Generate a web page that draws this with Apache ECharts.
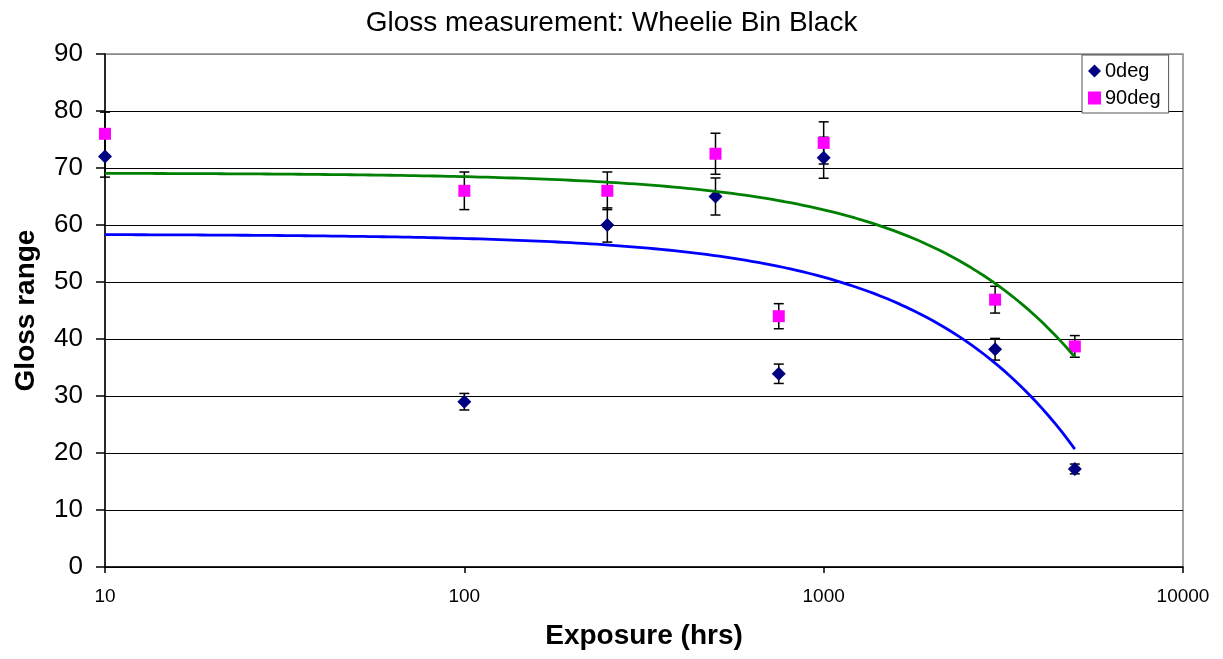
<!DOCTYPE html>
<html>
<head>
<meta charset="utf-8">
<script src="https://cdn.jsdelivr.net/npm/echarts@6/dist/echarts.min.js"></script>
<style>
html,body{margin:0;padding:0;background:#fff;}
#chart{width:1223px;height:659px;}
</style>
</head>
<body>
<div id="chart"></div>
<script>
// ---- data ----
const exposure = [10, 100, 250, 500, 750, 1000, 3000, 5000];
const gloss0 = [72, 29, 60, 65, 33.9, 71.8, 38.2, 17.2];
const gloss90 = [76, 66, 66, 72.5, 44, 74.4, 46.9, 38.7];
const err0 = [3.6, 1.45, 3.0, 3.25, 1.7, 3.6, 1.9, 0.86];
const err90 = [3.8, 3.3, 3.3, 3.6, 2.2, 3.7, 2.35, 1.9];
const seriesNames = ['0deg', '90deg'];
const xTickValues = [10, 100, 1000, 10000];
const yTickValues = [0, 10, 20, 30, 40, 50, 60, 70, 80, 90];

// ---- linear least-squares trendline (as in the spreadsheet) ----
function linFit(xs, ys) {
  const n = xs.length;
  const mx = xs.reduce((a, b) => a + b, 0) / n;
  const my = ys.reduce((a, b) => a + b, 0) / n;
  let sxy = 0, sxx = 0;
  for (let i = 0; i < n; i++) { sxy += (xs[i] - mx) * (ys[i] - my); sxx += (xs[i] - mx) * (xs[i] - mx); }
  const b = sxy / sxx;
  return { a: my - b * mx, b: b };
}
function trendPoints(xs, ys) {
  const f = linFit(xs, ys);
  const x0 = Math.min.apply(null, xs), x1 = Math.max.apply(null, xs);
  const pts = [];
  const steps = 150;
  for (let i = 0; i <= steps; i++) {
    const x = x0 * Math.pow(x1 / x0, i / steps);
    pts.push([x, f.a + f.b * x]);
  }
  return pts;
}
function pairs(xs, ys) { return xs.map((x, i) => [x, ys[i]]); }
function errData(xs, ys, es) { return xs.map((x, i) => [x, ys[i] - es[i], ys[i] + es[i]]); }

function errRender(params, api) {
  const x = api.value(0), lo = api.value(1), hi = api.value(2);
  const pl = api.coord([x, lo]), ph = api.coord([x, hi]);
  const w = 5;
  const st = { stroke: '#000', lineWidth: 1.5 };
  return {
    type: 'group',
    children: [
      { type: 'line', shape: { x1: pl[0], y1: pl[1], x2: ph[0], y2: ph[1] }, style: st },
      { type: 'line', shape: { x1: pl[0] - w, y1: pl[1], x2: pl[0] + w, y2: pl[1] }, style: st },
      { type: 'line', shape: { x1: ph[0] - w, y1: ph[1], x2: ph[0] + w, y2: ph[1] }, style: st }
    ]
  };
}

const splitColors = yTickValues.map((v, i) => i === yTickValues.length - 1 ? '#888' : '#000');

const chart = echarts.init(document.getElementById('chart'), null, { renderer: 'canvas' });
chart.setOption({
  animation: false,
  backgroundColor: '#fff',
  title: {
    text: 'Gloss measurement: Wheelie Bin Black',
    left: 'center',
    top: 4,
    textStyle: { fontFamily: 'Liberation Sans', fontSize: 28, fontWeight: 'normal', color: '#000' }
  },
  grid: {
    left: 105, right: 40, top: 54, bottom: 92,
    show: true, borderColor: '#888', borderWidth: 1.5, backgroundColor: '#fff'
  },
  legend: {
    data: [
      { name: seriesNames[0], icon: 'diamond', itemStyle: { color: '#000080' } },
      { name: seriesNames[1], icon: 'rect', itemStyle: { color: '#FF00FF' } }
    ],
    orient: 'vertical',
    left: 1082, top: 55,
    padding: [6, 8, 5, 6],
    itemGap: 7,
    itemWidth: 13, itemHeight: 13,
    backgroundColor: '#fff',
    borderColor: '#555', borderWidth: 1,
    textStyle: { fontFamily: 'Liberation Sans', fontSize: 20, color: '#000', padding: [0, 0, 0, -1] }
  },
  xAxis: {
    type: 'log', logBase: 10, min: 10, max: 10000,
    name: 'Exposure (hrs)', nameLocation: 'middle', nameGap: 55,
    nameTextStyle: { fontFamily: 'Liberation Sans', fontSize: 28, fontWeight: 'bold', color: '#000' },
    axisLine: { lineStyle: { color: '#000', width: 1.5 } },
    axisTick: { show: true, length: 6, lineStyle: { color: '#000', width: 1.5 } },
    axisLabel: {
      fontFamily: 'Liberation Sans', fontSize: 19, color: '#000', margin: 20,
      formatter: function (v) { return xTickValues.indexOf(Math.round(v)) >= 0 ? String(Math.round(v)) : ''; }
    },
    splitLine: { show: false },
    minorTick: { show: false }
  },
  yAxis: {
    type: 'value', min: 0, max: 90, interval: 10,
    name: 'Gloss range', nameLocation: 'middle', nameGap: 65, nameRotate: 90,
    nameTextStyle: { fontFamily: 'Liberation Sans', fontSize: 28, fontWeight: 'bold', color: '#000' },
    axisLine: { show: true, lineStyle: { color: '#000', width: 1.5 } },
    axisTick: { show: true, length: 9, lineStyle: { color: '#000', width: 1.5 } },
    axisLabel: { fontFamily: 'Liberation Sans', fontSize: 26, color: '#000', margin: 22 },
    splitLine: { show: true, lineStyle: { color: splitColors, width: 1.2 } }
  },
  series: [
    {
      name: seriesNames[0] + ' err', type: 'custom', renderItem: errRender,
      data: errData(exposure, gloss0, err0), encode: { x: 0, y: [1, 2] }, z: 3, silent: true
    },
    {
      name: seriesNames[1] + ' err', type: 'custom', renderItem: errRender,
      data: errData(exposure, gloss90, err90), encode: { x: 0, y: [1, 2] }, z: 3, silent: true
    },
    {
      name: seriesNames[0], type: 'scatter', symbol: 'diamond', symbolSize: 14,
      itemStyle: { color: '#000080', opacity: 1 }, data: pairs(exposure, gloss0), z: 4
    },
    {
      name: seriesNames[1], type: 'scatter', symbol: 'rect', symbolSize: 12,
      itemStyle: { color: '#FF00FF', opacity: 1 }, data: pairs(exposure, gloss90), z: 4
    },
    {
      name: seriesNames[0] + ' trend', type: 'line', showSymbol: false, symbol: 'none',
      lineStyle: { color: '#0000FF', width: 2.8 }, data: trendPoints(exposure, gloss0), z: 5, silent: true
    },
    {
      name: seriesNames[1] + ' trend', type: 'line', showSymbol: false, symbol: 'none',
      lineStyle: { color: '#008000', width: 2.8 }, data: trendPoints(exposure, gloss90), z: 5, silent: true
    }
  ]
});
</script>
</body>
</html>
